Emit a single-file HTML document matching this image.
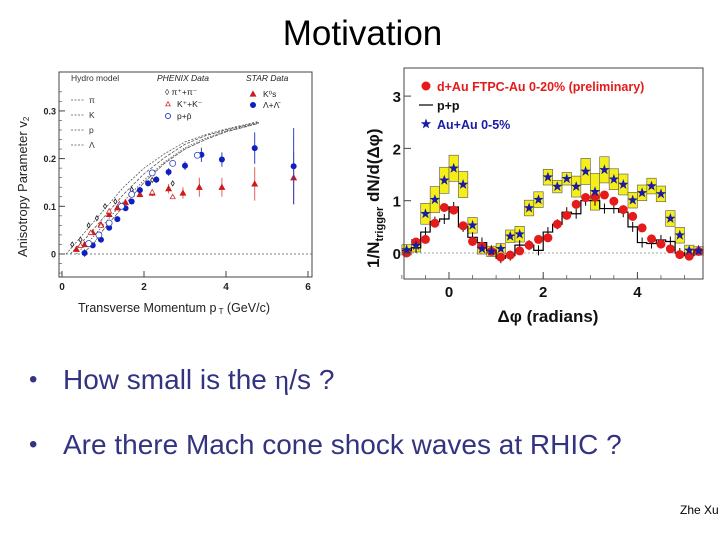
<!DOCTYPE html>
<html><head><meta charset="utf-8"><style>
html,body{margin:0;padding:0;background:#fff;}
#slide{position:relative;width:720px;height:540px;overflow:hidden;font-family:"Liberation Sans",sans-serif;}
.t{position:absolute;white-space:nowrap;}
</style></head><body>
<div id="slide">
<div class="t" style="left:0;width:725px;text-align:center;top:14px;font-size:35px;color:#000;">Motivation</div>
<svg id="chart" width="720" height="540" style="position:absolute;left:0;top:0"></svg>
<div class="t" style="left:29px;top:364px;font-size:28px;color:#333380;"><span style="font-size:24px;position:relative;top:-2px">•</span><span style="position:absolute;left:34px">How small is the <span style="font-family:'Liberation Serif',serif">η</span>/s ?</span></div>
<div class="t" style="left:29px;top:429px;font-size:28px;color:#333380;"><span style="font-size:24px;position:relative;top:-2px">•</span><span style="position:absolute;left:34px">Are there Mach cone shock waves at RHIC ?</span></div>
<div class="t" style="left:680px;top:503px;font-size:12px;color:#000;">Zhe Xu</div>
</div>
<script>
// ---- Left chart data (v2 vs pT) ----
const hydroPiX=[0.1,0.5,1,1.5,2,2.5,3,3.5,4,4.8];
const hydroPiY=[0,0.04,0.09,0.14,0.18,0.21,0.235,0.25,0.262,0.278];
const hydroKX=[0.2,0.6,1,1.5,2,2.5,3,3.5,4,4.8];
const hydroKY=[0,0.035,0.075,0.125,0.168,0.202,0.23,0.248,0.26,0.276];
const hydroPX=[0.35,0.7,1,1.5,2,2.5,3,3.5,4,4.8];
const hydroPY=[0,0.03,0.06,0.11,0.155,0.193,0.223,0.243,0.258,0.275];
const hydroLX=[0.5,0.8,1,1.5,2,2.5,3,3.5,4,4.8];
const hydroLY=[0,0.025,0.05,0.1,0.15,0.19,0.22,0.24,0.256,0.274];
const k0sX=[0.35,0.55,0.75,0.95,1.15,1.35,1.55,1.9,2.2,2.6,2.95,3.35,3.9,4.7,5.65];
const k0sY=[0.01,0.02,0.045,0.062,0.083,0.097,0.108,0.125,0.128,0.137,0.128,0.14,0.14,0.147,0.16];
const k0sE=[0.004,0.004,0.004,0.004,0.005,0.005,0.005,0.006,0.007,0.01,0.012,0.02,0.02,0.035,0.055];
const lamX=[0.55,0.75,0.95,1.15,1.35,1.55,1.7,1.9,2.1,2.3,2.6,3.0,3.4,3.9,4.7,5.65];
const lamY=[0.002,0.018,0.03,0.055,0.073,0.096,0.11,0.134,0.148,0.156,0.172,0.185,0.208,0.198,0.222,0.184];
const lamE=[0.008,0.005,0.005,0.005,0.005,0.005,0.005,0.006,0.006,0.007,0.008,0.009,0.015,0.015,0.033,0.08];
const phPiX=[0.25,0.45,0.65,0.85,1.05,1.3,1.7,2.2,2.7];
const phPiY=[0.02,0.03,0.06,0.075,0.1,0.11,0.135,0.155,0.148];
const phKX=[0.45,0.7,0.95,1.15,1.4,1.7,2.2,2.7];
const phKY=[0.018,0.045,0.06,0.09,0.105,0.125,0.13,0.12];
const phPX=[0.65,0.9,1.15,1.45,1.7,2.2,2.7,3.3];
const phPY=[0.022,0.04,0.065,0.1,0.125,0.17,0.19,0.207];
const leftXTicks=[0,2,4,6];
const leftYTicks=[0,0.1,0.2,0.3];
// ---- Right chart data (dN/dΔφ) ----
const binCenters=[-0.9,-0.7,-0.5,-0.3,-0.1,0.1,0.3,0.5,0.7,0.9,1.1,1.3,1.5,1.7,1.9,2.1,2.3,2.5,2.7,2.9,3.1,3.3,3.5,3.7,3.9,4.1,4.3,4.5,4.7,4.9,5.1,5.3];
const auau=[0.06,0.14,0.75,1.02,1.39,1.62,1.31,0.53,0.08,0.03,0.08,0.32,0.36,0.86,1.02,1.45,1.27,1.42,1.27,1.56,1.17,1.59,1.41,1.31,1.01,1.15,1.28,1.13,0.66,0.34,0.05,0.04];
const auauSys=[0.1,0.12,0.2,0.25,0.25,0.25,0.25,0.15,0.1,0.1,0.1,0.12,0.15,0.15,0.15,0.15,0.12,0.12,0.2,0.25,0.35,0.25,0.2,0.2,0.15,0.15,0.15,0.15,0.15,0.15,0.1,0.08];
const dau=[0.0,0.21,0.26,0.57,0.87,0.82,0.52,0.22,0.13,0.03,-0.08,-0.04,0.04,0.15,0.26,0.29,0.55,0.72,0.93,1.06,1.07,1.11,0.99,0.83,0.70,0.48,0.27,0.17,0.08,-0.03,-0.06,0.03];
const pp=[0.05,0.1,0.4,0.6,0.65,0.88,0.5,0.3,0.2,0.05,-0.1,-0.05,0.15,0.15,0.05,0.4,0.55,0.78,0.75,1.0,1.0,0.85,0.85,0.78,0.5,0.2,0.18,0.25,0.22,0.0,-0.05,0.05];
const rightXTicks=[0,2,4];
const rightYTicks=[0,1,2,3];

const svg=document.getElementById('chart');
const NS='http://www.w3.org/2000/svg';
function el(tag,attrs,parent){const e=document.createElementNS(NS,tag);for(const k in attrs)e.setAttribute(k,attrs[k]);(parent||svg).appendChild(e);return e;}
function txt(s,attrs,parent){const e=el('text',attrs,parent);e.textContent=s;return e;}

// LEFT axes
const lx=v=>62+41*v, ly=v=>254-477*v;
const gL=el('g',{});


el('rect',{x:59,y:72,width:253,height:205,fill:'none',stroke:'#444','stroke-width':1},gL);
el('line',{x1:lx(0),x2:312,y1:ly(0),y2:ly(0),stroke:'#555','stroke-dasharray':'2,2','stroke-width':0.8},gL);
leftXTicks.forEach(t=>{el('line',{x1:lx(t),x2:lx(t),y1:277,y2:271,stroke:'#444'},gL);
 const e=txt(String(t),{x:lx(t),y:290,'font-size':10,'font-weight':'bold','text-anchor':'middle',fill:'#222'},gL);
 });
leftYTicks.forEach(t=>{el('line',{x1:59,x2:65,y1:ly(t),y2:ly(t),stroke:'#444'},gL);
 const e=txt(String(t),{x:56,y:ly(t)+3.5,'font-size':9,'font-weight':'bold','text-anchor':'end',fill:'#222'},gL);
 });
for(let t=-0.04;t<0.36;t+=0.02){el('line',{x1:59,x2:62,y1:ly(t),y2:ly(t),stroke:'#444','stroke-width':0.6},gL);}
const xt=txt('Transverse Momentum p',{x:78,y:312,'font-size':12.5,fill:'#222'},gL);
const ts=el('tspan',{'font-size':8,dy:2},xt);ts.textContent=' T';
const ts2=el('tspan',{dy:-2},xt);ts2.textContent=' (GeV/c)';

const yt=txt('Anisotropy Parameter v',{x:0,y:0,'font-size':13,fill:'#222',transform:'translate(27,257) rotate(-90)'},gL);
const ys=el('tspan',{'font-size':8,dy:2},yt);ys.textContent='2';

[[hydroPiX,hydroPiY,'2,1.5'],[hydroKX,hydroKY,'3,1.5'],[hydroPX,hydroPY,'1.5,1.5'],[hydroLX,hydroLY,'4,1']].forEach((c,i)=>{
 const p=el('polyline',{points:c[0].map((x,j)=>lx(x)+','+ly(c[1][j])).join(' '),fill:'none',stroke:'#555','stroke-width':0.8,'stroke-dasharray':c[2]},gL);
 });
function tri(x,y,s,fill,stroke,g){return el('polygon',{points:`${x},${y-s} ${x-s},${y+s*0.8} ${x+s},${y+s*0.8}`,fill:fill,stroke:stroke,'stroke-width':0.8},g);}
k0sX.forEach((x,i)=>{el('line',{x1:lx(x),x2:lx(x),y1:ly(k0sY[i]-k0sE[i]),y2:ly(k0sY[i]+k0sE[i]),stroke:'#e06060'},gL);
 const m=tri(lx(x),ly(k0sY[i]),2.8,'#d01818','#d01818',gL);});
lamX.forEach((x,i)=>{el('line',{x1:lx(x),x2:lx(x),y1:ly(lamY[i]-lamE[i]),y2:ly(lamY[i]+lamE[i]),stroke:'#3040c0'},gL);
 const m=el('circle',{cx:lx(x),cy:ly(lamY[i]),r:3,fill:'#1020c0'},gL);});
phPiX.forEach((x,i)=>{const X=lx(x),Y=ly(phPiY[i]);const m=el('polygon',{points:`${X},${Y-2.5} ${X+1.6},${Y} ${X},${Y+2.5} ${X-1.6},${Y}`,fill:'#fff',stroke:'#222','stroke-width':0.8},gL);
 });
phKX.forEach((x,i)=>{const m=tri(lx(x),ly(phKY[i]),2.5,'#fff','#d03030',gL);});
phPX.forEach((x,i)=>{const m=el('circle',{cx:lx(x),cy:ly(phPY[i]),r:3,fill:'#fff',stroke:'#3040c0','stroke-width':0.8},gL);});
const lg=el('g',{},gL);
txt('Hydro model',{x:71,y:81,'font-size':8.5,fill:'#333'},lg);
['π','K','p','Λ'].forEach((s,i)=>{el('line',{x1:71,x2:85,y1:103+i*15-3,y2:103+i*15-3,stroke:'#555','stroke-dasharray':'2,1.5','stroke-width':0.8},lg);txt(s,{x:89,y:103+i*15,'font-size':8.5,fill:'#333'},lg);});
txt('PHENIX Data',{x:157,y:81,'font-size':8.5,'font-style':'italic',fill:'#222'},lg);
txt('◊  π⁺+π⁻',{x:165,y:95,'font-size':8.5,fill:'#222'},lg);
tri(168,104,2.3,'#fff','#d03030',lg);txt('K⁺+K⁻',{x:177,y:107,'font-size':8.5,fill:'#222'},lg);
el('circle',{cx:168,cy:116,r:2.5,fill:'#fff',stroke:'#3040c0'},lg);txt('p+p̄',{x:177,y:119,'font-size':8.5,fill:'#222'},lg);
txt('STAR Data',{x:246,y:81,'font-size':8.5,'font-style':'italic',fill:'#222'},lg);
tri(253,94,2.8,'#d01818','#d01818',lg);txt('K⁰s',{x:263,y:97,'font-size':8.5,fill:'#222'},lg);
el('circle',{cx:253,cy:105,r:3,fill:'#1020c0'},lg);txt('Λ+Λ̄',{x:263,y:108,'font-size':8.5,fill:'#222'},lg);

// RIGHT chart
const rx=v=>449+47.1*v, ry=v=>253-52.3*v;
const gR=el('g',{});


const hw=0.1;
binCenters.forEach((c,i)=>{const r=el('rect',{x:rx(c-hw),y:ry(auau[i]+auauSys[i]),width:rx(c+hw)-rx(c-hw),height:ry(auau[i]-auauSys[i])-ry(auau[i]+auauSys[i]),fill:'#f5ee1a',stroke:'#555','stroke-width':0.6},gR);
 });
el('line',{x1:404,x2:703,y1:ry(0),y2:ry(0),stroke:'#888','stroke-dasharray':'2,2','stroke-width':0.8},gR);
let d='';binCenters.forEach((c,i)=>{d+=(i?'L':'M')+rx(c-hw)+','+ry(pp[i])+'L'+rx(c+hw)+','+ry(pp[i]);});
const h=el('path',{d:d,fill:'none',stroke:'#000','stroke-width':1.2},gR);
binCenters.forEach((c,i)=>{el('line',{x1:rx(c),x2:rx(c),y1:ry(pp[i])-5,y2:ry(pp[i])+5,stroke:'#000','stroke-width':1},gR);});
binCenters.forEach((c,i)=>{const m=el('circle',{cx:rx(c),cy:ry(dau[i]),r:4.5,fill:'#e51a1a'},gR);});
function star(x,y,r,g){let p=[];for(let k=0;k<10;k++){const a=-Math.PI/2+k*Math.PI/5,rr=k%2?r*0.4:r;p.push((x+rr*Math.cos(a)).toFixed(1)+','+(y+rr*Math.sin(a)).toFixed(1));}return el('polygon',{points:p.join(' '),fill:'#1a1aa8'},g);}
binCenters.forEach((c,i)=>{const m=star(rx(c),ry(auau[i]),5.5,gR);});
el('rect',{x:404,y:68,width:299,height:211,fill:'none',stroke:'#444','stroke-width':1},gR);
rightXTicks.forEach(t=>{el('line',{x1:rx(t),x2:rx(t),y1:279,y2:272,stroke:'#444'},gR);
 const e=txt(String(t),{x:rx(t),y:297,'font-size':15,'font-weight':'bold','text-anchor':'middle',fill:'#111'},gR);
 });
for(let t=-1;t<=5.4;t+=0.5){el('line',{x1:rx(t),x2:rx(t),y1:279,y2:275,stroke:'#444','stroke-width':0.7},gR);}
rightYTicks.forEach(t=>{el('line',{x1:404,x2:411,y1:ry(t),y2:ry(t),stroke:'#444'},gR);
 const e=txt(String(t),{x:401,y:ry(t)+6,'font-size':15,'font-weight':'bold','text-anchor':'end',fill:'#111'},gR);
 });
const rxt=txt('Δφ (radians)',{x:548,y:322,'font-size':17,'font-weight':'bold','text-anchor':'middle',fill:'#111'},gR);

const ryt=txt('1/N',{x:0,y:0,'font-size':17,'font-weight':'bold',fill:'#111',transform:'translate(379,268) rotate(-90)'},gR);
const rs=el('tspan',{'font-size':11,dy:4},ryt);rs.textContent='trigger';
const rs2=el('tspan',{dy:-4},ryt);rs2.textContent=' dN/d(Δφ)';

const rl=el('g',{},gR);
el('circle',{cx:426,cy:86,r:4.5,fill:'#e51a1a'},rl);txt('d+Au FTPC-Au 0-20% (preliminary)',{x:437,y:91,'font-size':12.5,'font-weight':'bold',fill:'#e51a1a'},rl);
el('line',{x1:419,x2:433,y1:105,y2:105,stroke:'#000','stroke-width':1.2},rl);txt('p+p',{x:437,y:110,'font-size':12.5,'font-weight':'bold',fill:'#111'},rl);
star(426,124,5.5,rl);txt('Au+Au 0-5%',{x:437,y:129,'font-size':12.5,'font-weight':'bold',fill:'#1a1aa8'},rl);
</script>
</body></html>
